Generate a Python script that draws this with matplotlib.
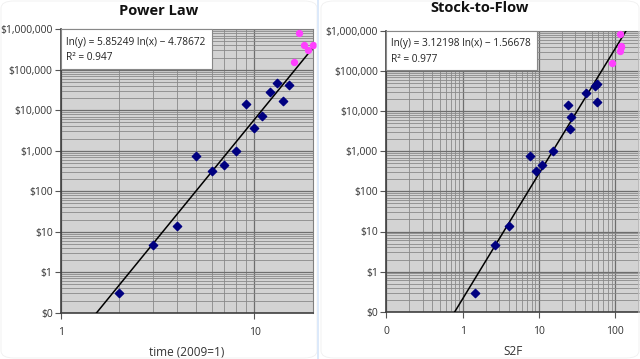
import numpy as np
import matplotlib
matplotlib.use("Agg")
import matplotlib.pyplot as plt
from matplotlib.ticker import LogLocator, FixedLocator, NullFormatter, FuncFormatter
from matplotlib.patches import FancyBboxPatch, Rectangle

plt.rcParams['font.family'] = ['Open Sans', 'DejaVu Sans']

# ---- data ----
time_blue = [2, 3, 4, 5, 6, 7, 8, 9, 10, 11, 12, 13, 14, 15]
s2f_blue = [1.45, 2.66, 4.0, 7.6, 9.2, 10.9, 15.3, 23.8, 25.3, 26.6, 41, 58, 57, 55]
price_blue = [0.3, 4.7, 14, 760, 320, 450, 1000, 14000, 3700, 7300, 29000, 47000, 17000, 42000]

time_pink = [16, 17, 18, 19, 20]
s2f_pink = [90, 116, 119, 117, 119]
price_pink = [156000, 820000, 420000, 310000, 400000]

pl_slope, pl_icpt, pl_r2 = 5.85249, -4.78672, 0.947
sf_slope, sf_icpt, sf_r2 = 3.12198, -1.56678, 0.977

W, H = 640, 359
fig = plt.figure(figsize=(W / 100, H / 100), dpi=100)
fig.patch.set_facecolor('white')

# panel frames / separator
for x0, x1 in [(1, 317), (321, 639)]:
    fig.patches.append(FancyBboxPatch((x0 / W, 1 / H), (x1 - x0) / W, (H - 2) / H,
                                      boxstyle="round,pad=0,rounding_size=0.02",
                                      transform=fig.transFigure, fill=False,
                                      edgecolor='#f0f0f0', linewidth=0.6, zorder=0))
fig.patches.append(Rectangle((317 / W, 0), 2 / W, 1, transform=fig.transFigure,
                             facecolor='#dce9fa', edgecolor='none', zorder=1))


def money(v, pos):
    if v < 1:
        return '$0'
    return '${:,.0f}'.format(v)


def plain(v, pos):
    if v < 1:
        return '0'
    return '{:,.0f}'.format(v)


def setup(ax, xlim, xlab, xmajor):
    ax.set_xscale('log')
    ax.set_yscale('log')
    ax.set_xlim(*xlim)
    ax.set_ylim(0.1, 1e6)
    ax.set_facecolor('#d3d3d3')
    ax.xaxis.set_major_locator(FixedLocator(xmajor))
    ax.xaxis.set_minor_locator(LogLocator(base=10, subs=np.arange(2, 10), numticks=20))
    ax.yaxis.set_major_locator(FixedLocator([0.1, 1, 10, 100, 1e3, 1e4, 1e5, 1e6]))
    ax.yaxis.set_minor_locator(LogLocator(base=10, subs=np.arange(2, 10), numticks=20))
    ax.xaxis.set_minor_formatter(NullFormatter())
    ax.yaxis.set_minor_formatter(NullFormatter())
    ax.yaxis.set_major_formatter(FuncFormatter(money))
    ax.xaxis.set_major_formatter(FuncFormatter(plain))
    ax.grid(True, which='major', color='#6e6e6e', linewidth=0.9)
    ax.grid(True, which='minor', color='#8a8a8a', linewidth=0.6)
    ax.set_axisbelow(True)
    ax.tick_params(which='minor', length=0)
    ax.tick_params(which='major', length=4, width=0.8, color='#555555',
                   labelsize=7.5, labelcolor='#333333', pad=2)
    ax.tick_params(axis='x', pad=6)
    for s in ['left', 'bottom']:
        ax.spines[s].set_color('#404040')
        ax.spines[s].set_linewidth(1.2)
    for s in ['top', 'right']:
        ax.spines[s].set_color('#808080')
        ax.spines[s].set_linewidth(0.8)
    ax.set_xlabel(xlab, fontsize=8.5, color='#333333', labelpad=6)


def trend(ax, slope, icpt, xmin, xmax):
    xs = np.logspace(np.log10(xmin), np.log10(xmax), 200)
    ys = np.exp(icpt) * xs ** slope
    ax.plot(xs, ys, color='black', linewidth=1.1, zorder=3)


def eqbox(ax, slope, icpt, r2, width_frac):
    ax.add_patch(Rectangle((0, 0.86), width_frac, 0.14, transform=ax.transAxes,
                           facecolor='white', edgecolor='#888888', linewidth=0.8,
                           zorder=5, clip_on=False))
    ax.text(0.02, 0.955, 'ln(y) = {:.5f} ln(x) \u2212 {:.5f}'.format(slope, -icpt),
            transform=ax.transAxes, fontsize=7.3, color='#222222', va='center', zorder=6)
    ax.text(0.02, 0.9, 'R\u00b2 = {:.3f}'.format(r2),
            transform=ax.transAxes, fontsize=7.3, color='#222222', va='center', zorder=6)


# ---- left: Power Law ----
ax1 = fig.add_axes([61 / W, 1 - 312.7 / H, (312.7 - 61) / W, (312.7 - 29.3) / H])
setup(ax1, (1, 20), 'time (2009=1)', [1, 10])
trend(ax1, pl_slope, pl_icpt, 1.0, 20)
ax1.scatter(time_blue, price_blue, marker='D', s=18, color='#000080', zorder=4, clip_on=False)
ax1.scatter(time_pink, price_pink, marker='o', s=18, color='#ff40ff', zorder=4, clip_on=False)
eqbox(ax1, pl_slope, pl_icpt, pl_r2, 0.6)

# ---- right: Stock-to-Flow ----
ax2 = fig.add_axes([386.3 / W, 1 - 311.7 / H, (640 - 386.3) / W, (311.7 - 31) / H])
setup(ax2, (0.1, 211), 'S2F', [0.1, 1, 10, 100])
trend(ax2, sf_slope, sf_icpt, 0.1, 211)
ax2.scatter(s2f_blue, price_blue, marker='D', s=18, color='#000080', zorder=4, clip_on=False)
ax2.scatter(s2f_pink, price_pink, marker='o', s=18, color='#ff40ff', zorder=4, clip_on=False)
eqbox(ax2, sf_slope, sf_icpt, sf_r2, 0.595)

fig.text(159 / W, 1 - 11 / H, 'Power Law', ha='center', va='center',
         fontsize=10.5, fontweight='bold', color='#111111')
fig.text(480 / W, 1 - 8 / H, 'Stock-to-Flow', ha='center', va='center',
         fontsize=10.5, fontweight='bold', color='#111111')

fig.savefig('out.png', dpi=100, facecolor='white')
